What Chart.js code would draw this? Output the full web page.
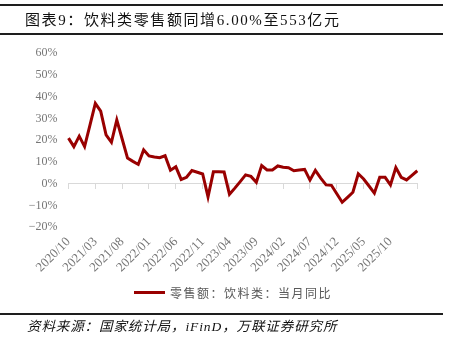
<!DOCTYPE html>
<html>
<head>
<meta charset="utf-8">
<script src="https://cdn.jsdelivr.net/npm/chart.js@4.4.1/dist/chart.umd.min.js"></script>
<style>
  html, body { margin: 0; padding: 0; background: #fff; }
  #wrap { position: relative; width: 449px; height: 349px; overflow: hidden; }
  #c { position: absolute; left: 0; top: 0; }
  .rule { position: absolute; left: 0; width: 443px; height: 2px; background: #1e1e1e; }
  #title { position: absolute; left: 25px; top: 9px; font: 15px/22px "Liberation Serif", "Noto Sans CJK SC", serif; letter-spacing: 1.6px; color: #111; white-space: nowrap; }
  #legend { position: absolute; left: 134px; top: 284px; height: 18px; white-space: nowrap; }
  #legend .swatch { position: absolute; left: 0; top: 7px; width: 31px; height: 3px; background: #990000; }
  #legend .txt { position: absolute; left: 36px; top: 0; font: 12px/18px "Noto Sans CJK SC", sans-serif; letter-spacing: 1.5px; color: #595959; }
  #source { position: absolute; left: 27px; top: 317px; font: italic 13.5px/20px "Liberation Serif", "Noto Sans CJK SC", serif; letter-spacing: 0.9px; color: #111; white-space: nowrap; }
</style>
</head>
<body>
<div id="wrap">
  <canvas id="c" width="449" height="349"></canvas>
  <div class="rule" style="top:4px"></div>
  <div id="title">图表9：饮料类零售额同增6.00%至553亿元</div>
  <div class="rule" style="top:33px"></div>
  <div id="legend"><div class="swatch"></div><div class="txt">零售额：饮料类：当月同比</div></div>
  <div class="rule" style="top:313px"></div>
  <div id="source">资料来源：国家统计局，iFinD，万联证券研究所</div>
</div>
<script>
// 月度区间：2020/10 - 2026/03
const START_YEAR = 2020, START_MONTH = 10, N_MONTHS = 66;
const months = [];
for (let k = 0; k < N_MONTHS; k++) {
  const t = START_MONTH - 1 + k;
  const y = START_YEAR + Math.floor(t / 12), m = t % 12 + 1;
  months.push(y + '/' + String(m).padStart(2, '0'));
}

// 零售额：饮料类：当月同比（%）
const yoy = [
  21.0, 17.1, 21.9,                                                   // 2020
  17.1, 27.0, 37.0, 33.4, 22.5, 19.1, 29.4, 20.6, 11.8, 10.3, 8.9, 15.6, // 2021
  12.8, 12.3, 12.0, 12.9, 6.2, 7.8, 2.0, 3.0, 6.1, 5.3, 4.5, -6.0,    // 2022
  5.5, 5.5, 5.4, -4.8, -2.0, 1.0, 4.1, 3.4, 0.7, 8.4, 6.4, 6.4,       // 2023
  8.2, 7.6, 7.4, 6.0, 6.3, 6.6, 1.7, 6.2, 2.6, -0.5, -0.7, -4.6,      // 2024
  -8.5, -6.2, -3.9, 4.6, 2.2, -1.0, -4.3, 3.0, 3.0, -0.5, 7.5, 3.0,   // 2025
  1.8, 3.9, 6.0                                                       // 2026
];

const Y_MIN = -20, Y_MAX = 60, Y_STEP = 10;
const LABEL_EVERY = 5;

const gray = '#767676';
const serif = { family: 'Liberation Serif', size: 12 };
const axisGray = '#d9d9d9';

new Chart(document.getElementById('c'), {
  type: 'line',
  data: {
    labels: months,
    datasets: [{
      label: '零售额:饮料类:当月同比',
      data: yoy,
      borderColor: '#990000',
      borderWidth: 3,
      pointRadius: 0,
      tension: 0,
      fill: false
    }]
  },
  options: {
    responsive: false,
    animation: false,
    layout: { padding: { left: 0, right: 31.7, top: 53.3, bottom: 71.7 } },
    plugins: { legend: { display: false }, tooltip: { enabled: false } },
    scales: {
      x: {
        position: 'bottom',
        grid: { display: false, drawTicks: false },
        border: { display: false },
        ticks: {
          autoSkip: false, minRotation: 45, maxRotation: 45, padding: 7,
          color: gray, font: { family: 'Liberation Serif', size: 13 },
          callback: (v, i) => (i % LABEL_EVERY === 0 && i < months.length - 1) ? months[i] : ''
        },
        afterFit: s => { s.height = 50; }
      },
      // 0% 横轴及刻度线
      x0: {
        type: 'category',
        position: { y: 0 },
        ticks: { display: false, autoSkip: false },
        grid: {
          drawOnChartArea: false, drawTicks: true, tickLength: 5,
          color: axisGray,
          tickColor: c => c.index % LABEL_EVERY === 0 ? axisGray : 'rgba(0,0,0,0)'
        },
        border: { color: axisGray, width: 1 }
      },
      y: {
        min: Y_MIN, max: Y_MAX,
        grid: { display: false, drawTicks: false },
        border: { display: false },
        ticks: {
          stepSize: Y_STEP, padding: 11, color: gray, font: serif,
          callback: v => (v < 0 ? '−' : '') + Math.abs(v) + '%'
        },
        afterFit: s => { s.width = 68.5; }
      }
    }
  }
});
</script>
</body>
</html>
